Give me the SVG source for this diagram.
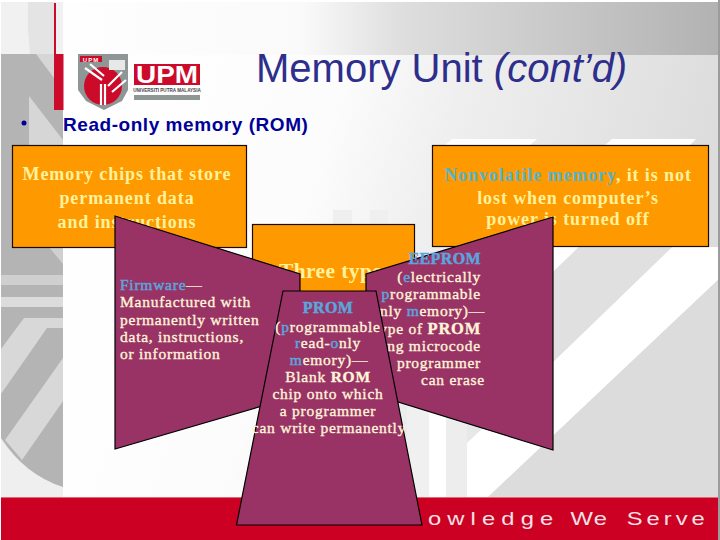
<svg xmlns="http://www.w3.org/2000/svg" width="720" height="540" viewBox="0 0 720 540">
<defs>
<linearGradient id="topBand" x1="0" y1="0" x2="1" y2="0"><stop offset="0" stop-color="#ffffff"/><stop offset="0.42" stop-color="#fafafa"/><stop offset="0.56" stop-color="#dedede"/><stop offset="1" stop-color="#b2b2b2"/></linearGradient>
<linearGradient id="body" x1="0" y1="0" x2="1" y2="0.2"><stop offset="0" stop-color="#ffffff"/><stop offset="0.42" stop-color="#fcfcfc"/><stop offset="0.6" stop-color="#efefef"/><stop offset="1" stop-color="#dcdcdc"/></linearGradient>
<clipPath id="strip"><rect x="1" y="2" width="62" height="495"/></clipPath>
<clipPath id="arc"><path d="M1 54H63V487Q25 475 1 438Z"/></clipPath>
</defs>
<style>
.box{fill:#ff9900;stroke:#1a0a00;stroke-width:1.2}
.mag{fill:#993366;stroke:#000;stroke-width:1.2;stroke-linejoin:miter}
text{font-family:"Liberation Serif","Times New Roman",serif}
.big{font-size:18px;font-weight:bold;fill:#fff29c;text-anchor:middle;letter-spacing:.9px}
.sm{font-size:15.5px;fill:#fff5d8;stroke:#fff5d8;stroke-width:.35px;letter-spacing:.75px}
.mid{text-anchor:middle}
.end{text-anchor:end}
.hi{fill:#5aa5dc;stroke:#5aa5dc;stroke-width:.5px}
.head{font-size:16px;font-weight:bold;letter-spacing:.4px}
.logo{font-family:"Liberation Sans",Arial,sans-serif;font-weight:bold}
</style>

<g id="background">
<rect width="720" height="540" fill="#ffffff"/>
<rect x="1" y="2" width="717" height="53" fill="url(#topBand)"/>
<rect x="63" y="55" width="655" height="442" fill="url(#body)"/>
<polygon points="553,247 579,247 553,272" fill="#fff"/>
<polygon points="553,362 672,247 718,247 718,280 488,497 467,497 467,443" fill="#ffffff"/>
<polygon points="579,247 672,247 553,362 553,272" fill="#e0e0e0"/>
<polygon points="718,280 718,497 488,497" fill="#dcdcdc"/>
<rect x="333" y="210" width="19" height="15" fill="#efefef"/>
<rect x="370" y="210" width="18" height="15" fill="#efefef"/>
<rect x="407" y="400" width="22" height="97" fill="#f0f0f0"/>
<rect x="429" y="400" width="17" height="97" fill="#ffffff"/>
<rect x="446" y="400" width="21" height="97" fill="#ededed"/>
<polygon points="452,139 537,139 530,145 445,145" fill="#ffffff"/>
<polygon points="612,139 696,139 690,145 605,145" fill="#ffffff"/>
<rect x="718" y="0" width="2" height="540" fill="#9c9c9c"/>
<g clip-path="url(#strip)">
<rect x="1" y="2" width="62" height="52" fill="#f1f1f1"/>
<polygon points="28,2 55,2 55,54 30,54 28,30" fill="#e4e4e4"/>
<rect x="1" y="54" width="62" height="443" fill="#efefef"/>
<g clip-path="url(#arc)">
<rect x="1" y="54" width="62" height="443" fill="#b4b4b4"/>
<polygon points="36,54 54,54 54,78" fill="#d6d6d6"/>
<polygon points="29,96 63,140 63,200 29,150" fill="#d6d6d6"/>
<polygon points="43,240 63,264 63,240" fill="#d0d0d0"/>
<rect x="1" y="275" width="62" height="10" fill="#cfcfcf"/>
<rect x="1" y="297" width="62" height="10" fill="#dcdcdc"/>
<polygon points="24,318 63,318 63,328 47,328 1,394 1,349" fill="#d8d8d8"/>
<polygon points="63,358 63,401 22,460 5,440" fill="#d8d8d8"/>
</g>
</g>
</g>

<g id="logo">
<polygon points="78,54 128,54 128,90 122,101 104,110 86,101 78,90" fill="#8f9796"/>
<circle cx="103" cy="86" r="19" fill="#cc0a2a"/>
<rect x="80" y="56" width="22" height="6" fill="#cc0a2a"/>
<text x="91" y="61.500" font-size="6" class="logo" fill="#fff" text-anchor="middle" letter-spacing="1">UPM</text>
<rect x="109" y="60" width="16" height="10" fill="#e8e8e8"/>
<path d="M85 68L102 80M90 64L104 76M122 72L108 86M126 80L112 92M101 84V105M105 84V105" stroke="#fff" stroke-width="2.200" fill="none"/>
<rect x="134" y="64" width="66" height="21" fill="#cc0a2a"/>
<text x="136" y="83" font-size="24" class="logo" fill="#fff" textLength="62" lengthAdjust="spacingAndGlyphs">UPM</text>
<text x="167" y="92" font-size="4.600" class="logo" fill="#444" text-anchor="middle">UNIVERSITI PUTRA MALAYSIA</text>
<rect x="134" y="95" width="66" height="5" fill="#8f9796"/>
</g>

<g id="accent">
<rect x="54" y="3" width="2" height="52" fill="#cc0a2a"/>
<rect x="54" y="54" width="9.500" height="56" fill="#cc0a2a"/>
</g>

<g id="footer">
<rect x="1" y="497" width="717" height="43" fill="#cc0022"/>
<rect x="1" y="497" width="717" height="1" fill="#e06a78"/>
<text transform="translate(428 525) scale(1.25 1)" font-size="19" fill="#f4e2e6" style="font-family:'Liberation Sans',Arial,sans-serif"><tspan x="0" letter-spacing="4.9">owledge</tspan> <tspan x="114" letter-spacing="1">We</tspan> <tspan x="159" letter-spacing="3.2">Serve</tspan></text>
</g>

<g id="title">
<text x="256" y="82" font-size="40" fill="#2e2e8c" style="font-family:'Liberation Sans',Arial,sans-serif">Memory Unit <tspan font-style="italic">(cont’d)</tspan></text>
</g>

<g id="subtitle">
<circle cx="24" cy="123" r="2.500" fill="#000099"/>
<text x="63" y="131" font-size="19" font-weight="bold" letter-spacing=".55" fill="#000099" style="font-family:'Liberation Sans',Arial,sans-serif">Read-only memory (ROM)</text>
</g>

<g id="node-chips">
<rect class="box" x="12.500" y="145.500" width="234" height="102"/>
<text class="big"><tspan x="127" y="180">Memory chips that store</tspan><tspan x="127" y="204">permanent data</tspan><tspan x="127" y="228">and instructions</tspan></text>
</g>

<g id="node-nonvolatile">
<rect class="box" x="432.500" y="145.500" width="276" height="101"/>
<text class="big"><tspan x="568" y="181"><tspan fill="#55b4c8">Nonvolatile memory</tspan>, it is not</tspan><tspan x="568" y="203.500">lost when computer’s</tspan><tspan x="568" y="225">power is turned off</tspan></text>
</g>

<g id="node-types">
<rect class="box" x="252.500" y="224.500" width="162" height="90"/>
<text class="big" x="335" y="278" style="font-size:21.5px;letter-spacing:.4px">Three types</text>
</g>

<g id="node-firmware">
<polygon class="mag" points="115,216 300,274 300,395 115,449"/>
<text class="sm"><tspan class="hi" x="120" y="290">Firmware</tspan><tspan>—</tspan><tspan x="120" y="307">Manufactured with</tspan><tspan x="120" y="325">permanently written</tspan><tspan x="120" y="342">data, instructions,</tspan><tspan x="120" y="359">or information</tspan></text>
</g>

<g id="node-eeprom">
<polygon class="mag" points="553,217 366,274 366,392 553,450"/>
<text class="sm end"><tspan class="hi head" x="481" y="264">EEPROM</tspan><tspan x="481" y="281.500">(<tspan class="hi">e</tspan>lectrically</tspan><tspan x="481" y="299"><tspan class="hi">p</tspan>rogrammable</tspan><tspan x="485" y="316">nly <tspan class="hi">m</tspan>emory)—</tspan><tspan x="481" y="333.500">ype of <tspan font-weight="bold" font-size="16.500">PROM</tspan></tspan><tspan x="481" y="351">ng microcode</tspan><tspan x="481" y="368">programmer</tspan><tspan x="485" y="385">can erase</tspan></text>
</g>

<g id="node-prom">
<polygon class="mag" points="283,291 376,291 422,525 236.500,525"/>
<text class="sm mid"><tspan class="hi head" x="328" y="313">PROM</tspan><tspan x="328" y="332">(<tspan class="hi">p</tspan>rogrammable</tspan><tspan x="328" y="348"><tspan class="hi">r</tspan>ead-<tspan class="hi">o</tspan>nly</tspan><tspan x="329" y="365"><tspan class="hi">m</tspan>emory)—</tspan><tspan x="328" y="382">Blank <tspan font-weight="bold">ROM</tspan></tspan><tspan x="328" y="399">chip onto which</tspan><tspan x="328" y="416">a programmer</tspan><tspan x="329" y="433">can write permanently</tspan></text>
</g>
</svg>
